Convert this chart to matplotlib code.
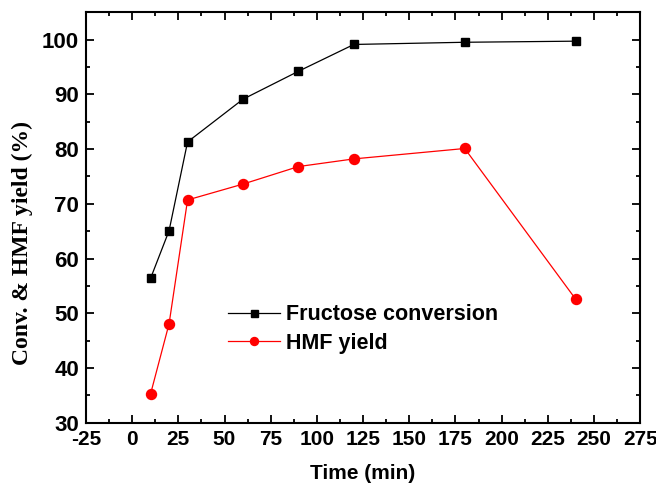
import matplotlib
matplotlib.use("Agg")
import matplotlib.pyplot as plt
from matplotlib.ticker import MultipleLocator

# reaction time (min)
time_min = [10, 20, 30, 60, 90, 120, 180, 240]
# fructose conversion (%)
conversion = [56.4, 65.1, 81.3, 89.1, 94.2, 99.1, 99.5, 99.7]
# HMF yield (%)
hmf_yield = [35.3, 48.1, 70.7, 73.6, 76.8, 78.2, 80.1, 52.6]

plt.rcParams['font.family'] = ['Liberation Sans', 'DejaVu Sans']
plt.rcParams['font.weight'] = 'bold'
plt.rcParams['axes.unicode_minus'] = False

fig = plt.figure(figsize=(6.56, 4.86), dpi=100)
ax = fig.add_axes([0.131, 0.130, 0.845, 0.845])

ax.plot(time_min, conversion, color='black', lw=0.9, marker='s', ms=6.3,
        label='Fructose conversion')
ax.plot(time_min, hmf_yield, color='red', lw=0.9, marker='o', ms=7.2,
        label='HMF yield')

ax.set_xlim(-25, 275)
ax.set_ylim(30, 105)
ax.xaxis.set_major_locator(MultipleLocator(25))
ax.xaxis.set_minor_locator(MultipleLocator(12.5))
ax.yaxis.set_major_locator(MultipleLocator(10))
ax.yaxis.set_minor_locator(MultipleLocator(5))
ax.tick_params(which='both', direction='in', top=True, right=True,
               labeltop=False, labelright=False, width=1.3)
ax.tick_params(which='major', length=6)
ax.tick_params(which='minor', length=3)
ax.tick_params(axis='x', which='major', labelsize=15, pad=5)
ax.tick_params(axis='y', which='major', labelsize=16, pad=5)
for s in ax.spines.values():
    s.set_linewidth(1.5)

ax.set_xlabel('Time (min)', fontsize=15, fontweight='bold', labelpad=11)
ax.set_ylabel('Conv. & HMF yield (%)', fontsize=17, fontweight='bold',
              family=['Liberation Serif', 'DejaVu Serif'])
ax.yaxis.set_label_coords(-0.096, 0.438)

ax.legend(loc='center left', bbox_to_anchor=(0.222, 0.228), frameon=False,
          fontsize=15.5, handlelength=2.4, handletextpad=0.3, labelspacing=0.35,
          markerscale=0.8)

fig.savefig('out.png', dpi=100)
